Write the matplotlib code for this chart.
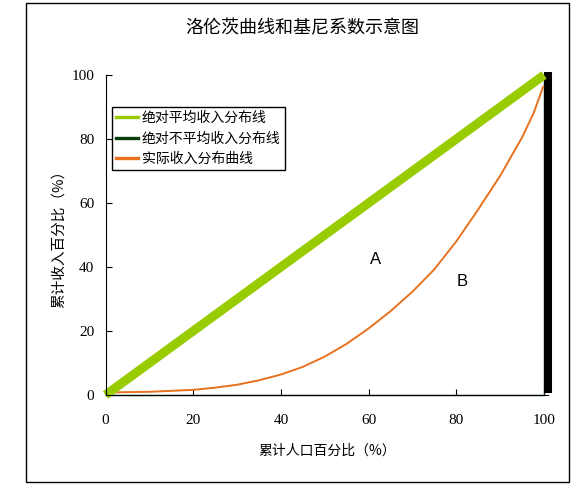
import matplotlib
matplotlib.use("Agg")
import matplotlib.pyplot as plt
from matplotlib.lines import Line2D
from matplotlib.patches import Rectangle

plt.rcParams['font.family'] = ['Noto Sans CJK SC', 'DejaVu Sans']

# data
equal_x = [0, 100]
equal_y = [0, 100]
unequal_x = [0, 100, 100]
unequal_y = [0, 0, 100]
bar_x = [101, 101]
bar_y = [0.7, 101]
actual_x = [0, 10, 20, 25, 30, 35, 40, 45, 50, 55, 60, 65, 70, 75, 80, 85, 90, 95, 97.6, 99.8]
actual_y = [0.8, 1.0, 1.6, 2.3, 3.2, 4.6, 6.4, 8.8, 12.0, 16.0, 20.8, 26.2, 32.3, 39.3, 48.0, 58.0, 68.5, 80.5, 88.0, 96.3]
xticks = [0, 20, 40, 60, 80, 100]
yticks = [0, 20, 40, 60, 80, 100]
labels = ['绝对平均收入分布线', '绝对不平均收入分布线', '实际收入分布曲线']

green = '#99CC00'
dkgreen = '#0B3D0B'
orange = '#E8711F'

fig = plt.figure(figsize=(5.88, 4.95), dpi=100)
fig.patches.append(Rectangle((25.5/588, 1-482.3/495), (569-25.5)/588, (482.3-2.7)/495,
                             transform=fig.transFigure, fill=False, edgecolor='black', lw=1))
ax = fig.add_axes([105.5/588, 1-395/495, (548.4-105.5)/588, 320/495])

ax.plot(unequal_x, unequal_y, color=dkgreen, lw=1, clip_on=False)
ax.plot(bar_x, bar_y, color='black', lw=5.8, clip_on=False, solid_capstyle='butt')
ax.plot(actual_x, actual_y, color=orange, lw=1.4, clip_on=False)
ax.plot(equal_x, equal_y, color=green, lw=6.5, clip_on=False, solid_capstyle='butt')

ax.set_xlim(0, 101)
ax.set_ylim(0, 100)
ax.set_xticks(xticks)
ax.set_yticks(yticks)
ax.tick_params(direction='in', length=4, width=0.8, labelsize=11)
ax.tick_params(axis='x', pad=14)
ax.tick_params(axis='y', pad=8)
for lab in ax.get_xticklabels() + ax.get_yticklabels():
    lab.set_fontfamily('Liberation Serif')
ax.spines['top'].set_visible(False)
ax.spines['right'].set_visible(False)

ax.set_xlabel('累计人口百分比（%）', fontsize=10, labelpad=12)
ax.set_ylabel('累计收入百分比（%）', fontsize=10.5, labelpad=4)
fig.text(302/588, 1-28/495, '洛伦茨曲线和基尼系数示意图', fontsize=13, ha='center', va='center')

ax.text(61.5, 42.2, 'A', fontsize=12, family='Liberation Sans', ha='center', va='center')
ax.text(81.3, 35.6, 'B', fontsize=12, family='Liberation Sans', ha='center', va='center')

handles = [Line2D([], [], color=green, lw=2.4),
           Line2D([], [], color=dkgreen, lw=2.4),
           Line2D([], [], color=orange, lw=2.4)]
leg = ax.legend(handles, labels, loc='upper left', bbox_to_anchor=(112/588, 1-107/495),
                bbox_transform=fig.transFigure, fontsize=10, frameon=True, fancybox=False,
                edgecolor='black', framealpha=1, handlelength=1.6, handletextpad=0.25,
                labelspacing=0.45, borderpad=0.3, borderaxespad=0)
leg.get_frame().set_linewidth(1)

fig.savefig('out.png', dpi=100)
